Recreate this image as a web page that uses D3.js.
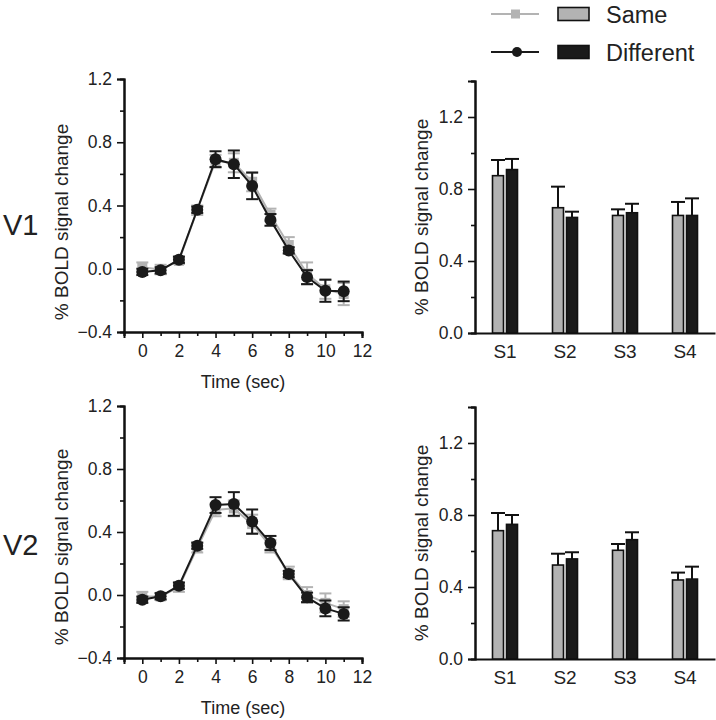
<!DOCTYPE html>
<html><head><meta charset="utf-8">
<script src="https://cdn.jsdelivr.net/npm/d3@7"></script>
<style>body{margin:0;background:#fff}svg{display:block;font-family:"Liberation Sans",Arial,sans-serif}</style>
</head><body><svg id="c" width="716" height="720"></svg>
<script>
// ---- data ----
const times = [0,1,2,3,4,5,6,7,8,9,10,11];
const v1Same = [0.01,-0.005,0.05,0.37,0.68,0.67,0.55,0.34,0.15,-0.03,-0.13,-0.16];
const v1SameErr = [0.03,0.03,0.02,0.03,0.04,0.06,0.06,0.04,0.05,0.07,0.06,0.07];
const v1Diff = [-0.02,-0.01,0.057,0.373,0.693,0.661,0.524,0.309,0.116,-0.053,-0.139,-0.143];
const v1DiffErr = [0.02,0.02,0.02,0.02,0.05,0.087,0.084,0.037,0.02,0.044,0.07,0.062];
const v2Same = [-0.01,-0.01,0.05,0.30,0.54,0.55,0.45,0.31,0.14,0.0,-0.05,-0.09];
const v2SameErr = [0.03,0.02,0.03,0.03,0.04,0.05,0.06,0.04,0.04,0.05,0.06,0.05];
const v2Diff = [-0.03,-0.008,0.059,0.313,0.571,0.578,0.466,0.33,0.133,-0.015,-0.085,-0.12];
const v2DiffErr = [0.02,0.02,0.02,0.02,0.05,0.075,0.077,0.045,0.02,0.03,0.05,0.042];

const sessions = ["S1","S2","S3","S4"];
const v1BarSame = [0.874,0.696,0.653,0.653];
const v1BarSameErr = [0.087,0.117,0.034,0.075];
const v1BarDiff = [0.908,0.642,0.668,0.653];
const v1BarDiffErr = [0.059,0.032,0.05,0.095];
const v2BarSame = [0.713,0.522,0.604,0.439];
const v2BarSameErr = [0.098,0.063,0.035,0.041];
const v2BarDiff = [0.748,0.556,0.663,0.444];
const v2BarDiffErr = [0.052,0.037,0.041,0.069];

const lineYTicks = [-0.4,0.0,0.4,0.8,1.2];
const lineYMinor = [-0.2,0.2,0.6,1.0];
const lineXTicks = [0,2,4,6,8,10,12];
const lineXMinor = [-1,1,3,5,7,9,11];
const barYTicks = [0.0,0.4,0.8,1.2];
const barYMinor = [0.2,0.6,1.0,1.4];
const regions = ["V1","V2"];
const legendLabels = ["Same","Different"];

const GREY = "#b3b3b3", BLACK = "#1a1a1a";
const svg = d3.select("#c");

function styleAxis(g){
  g.select(".domain").attr("stroke","#111").attr("stroke-width",2);
  g.selectAll(".tick line").attr("stroke","#111").attr("stroke-width",1.6);
  g.selectAll(".tick text").attr("fill","#222").attr("font-size",17.5);
}

function linePanel(top, bottom, same, sameErr, diff, diffErr, titleCy){
  const x = d3.scaleLinear().domain([-1,12]).range([124,362]);
  const y = d3.scaleLinear().domain([-0.4,1.2]).range([bottom,top]);
  const g = svg.append("g");
  g.append("g").attr("transform",`translate(${x.range()[0]},0)`)
    .call(d3.axisLeft(y).tickValues(lineYMinor).tickSize(4).tickFormat(""))
    .call(styleAxis);
  g.append("g").attr("transform",`translate(0,${bottom})`)
    .call(d3.axisBottom(x).tickValues(lineXMinor).tickSize(4).tickFormat(""))
    .call(styleAxis);
  g.append("g").attr("transform",`translate(${x.range()[0]},0)`)
    .call(d3.axisLeft(y).tickValues(lineYTicks).tickSize(7).tickPadding(5).tickFormat(d3.format(".1f")))
    .call(styleAxis);
  g.append("g").attr("transform",`translate(0,${bottom})`)
    .call(d3.axisBottom(x).tickValues(lineXTicks).tickSize(6).tickPadding(7).tickFormat(d3.format("d")))
    .call(styleAxis);
  g.append("text").attr("x",243).attr("y",bottom+56).attr("text-anchor","middle")
    .attr("font-size",18).attr("fill","#222").text("Time (sec)");
  g.append("text").attr("transform",`translate(68,${titleCy}) rotate(-90)`)
    .attr("text-anchor","middle").attr("font-size",19).attr("fill","#222").text("% BOLD signal change");

  const line = d3.line().x((d,i)=>x(times[i])).y(d=>y(d));
  function series(vals, errs, color, marker){
    const s = g.append("g");
    s.selectAll(null).data(vals).join("line")
      .attr("x1",(d,i)=>x(times[i])).attr("x2",(d,i)=>x(times[i]))
      .attr("y1",(d,i)=>y(d-errs[i])).attr("y2",(d,i)=>y(d+errs[i]))
      .attr("stroke",color).attr("stroke-width",2);
    [-1,1].forEach(sg=>{
      s.selectAll(null).data(vals).join("line")
        .attr("x1",(d,i)=>x(times[i])-6).attr("x2",(d,i)=>x(times[i])+6)
        .attr("y1",(d,i)=>y(d+sg*errs[i])).attr("y2",(d,i)=>y(d+sg*errs[i]))
        .attr("stroke",color).attr("stroke-width",2);
    });
    s.append("path").datum(vals).attr("d",line).attr("fill","none")
      .attr("stroke",color).attr("stroke-width",2);
    if(marker==="square"){
      s.selectAll("rect").data(vals).join("rect")
        .attr("x",(d,i)=>x(times[i])-5).attr("y",d=>y(d)-5)
        .attr("width",10).attr("height",10).attr("fill",color);
    } else {
      s.selectAll("circle").data(vals).join("circle")
        .attr("cx",(d,i)=>x(times[i])).attr("cy",d=>y(d)).attr("r",6).attr("fill",color);
    }
  }
  series(same, sameErr, GREY, "square");
  series(diff, diffErr, BLACK, "circle");
}

function barPanel(top, bottom, same, sameErr, diff, diffErr, titleCy){
  const x = d3.scaleBand().domain(sessions).range([475,715]);
  const y = d3.scaleLinear().domain([0,1.4]).range([bottom,top]);
  const g = svg.append("g");
  g.append("g").attr("transform",`translate(475,0)`)
    .call(d3.axisLeft(y).tickValues(barYMinor).tickSize(4).tickFormat(""))
    .call(styleAxis);
  g.append("g").attr("transform",`translate(475,0)`)
    .call(d3.axisLeft(y).tickValues(barYTicks).tickSize(7).tickPadding(5).tickFormat(d3.format(".1f")))
    .call(styleAxis);
  g.append("g").attr("transform",`translate(0,${bottom})`)
    .call(d3.axisBottom(x).tickSize(0).tickPadding(12))
    .call(styleAxis)
    .call(a=>a.selectAll(".tick text").attr("font-size",19));
  g.append("text").attr("transform",`translate(428,${titleCy}) rotate(-90)`)
    .attr("text-anchor","middle").attr("font-size",19).attr("fill","#222").text("% BOLD signal change");
  const bw = 11, gap = 3;
  const groups = [[same,sameErr,GREY,-1],[diff,diffErr,BLACK,1]];
  groups.forEach(([vals,errs,color,side])=>{
    const cx = (i)=>x(sessions[i])+x.bandwidth()/2 + side*(gap/2+bw/2);
    g.selectAll(null).data(vals).join("line")
      .attr("x1",(d,i)=>cx(i)).attr("x2",(d,i)=>cx(i))
      .attr("y1",d=>y(d)).attr("y2",(d,i)=>y(d+errs[i]))
      .attr("stroke","#111").attr("stroke-width",2);
    g.selectAll(null).data(vals).join("line")
      .attr("x1",(d,i)=>cx(i)-7).attr("x2",(d,i)=>cx(i)+7)
      .attr("y1",(d,i)=>y(d+errs[i])).attr("y2",(d,i)=>y(d+errs[i]))
      .attr("stroke","#111").attr("stroke-width",2);
    g.selectAll(null).data(vals).join("rect")
      .attr("x",(d,i)=>cx(i)-bw/2).attr("y",d=>y(d))
      .attr("width",bw).attr("height",d=>bottom-y(d))
      .attr("fill",color).attr("stroke","#111").attr("stroke-width",1.6);
  });
}

linePanel(79, 332, v1Same, v1SameErr, v1Diff, v1DiffErr, 222);
linePanel(406, 658, v2Same, v2SameErr, v2Diff, v2DiffErr, 547);
barPanel(81, 333, v1BarSame, v1BarSameErr, v1BarDiff, v1BarDiffErr, 217);
barPanel(407, 659, v2BarSame, v2BarSameErr, v2BarDiff, v2BarDiffErr, 543);

// region labels
svg.selectAll("text.region").data(regions).join("text").attr("class","region")
  .attr("x",3).attr("y",(d,i)=>[235,555][i]).attr("font-size",29).attr("fill","#222").text(d=>d);

// legend
const leg = svg.append("g");
const legY = [14,52];
legendLabels.forEach((lab,i)=>{
  const c = i===0?GREY:BLACK, yy = legY[i];
  leg.append("line").attr("x1",491).attr("x2",539).attr("y1",yy).attr("y2",yy).attr("stroke",c).attr("stroke-width",2);
  if(i===0) leg.append("rect").attr("x",511).attr("y",yy-4.5).attr("width",9).attr("height",9).attr("fill",c);
  else leg.append("circle").attr("cx",517).attr("cy",yy).attr("r",5).attr("fill",c);
  leg.append("rect").attr("x",558).attr("y",yy-6.5).attr("width",31).attr("height",13)
    .attr("fill",c).attr("stroke","#111").attr("stroke-width",1.6);
  leg.append("text").attr("x",606).attr("y",yy+8.5).attr("font-size",23.5).attr("fill","#222").text(lab);
});
</script></body></html>
